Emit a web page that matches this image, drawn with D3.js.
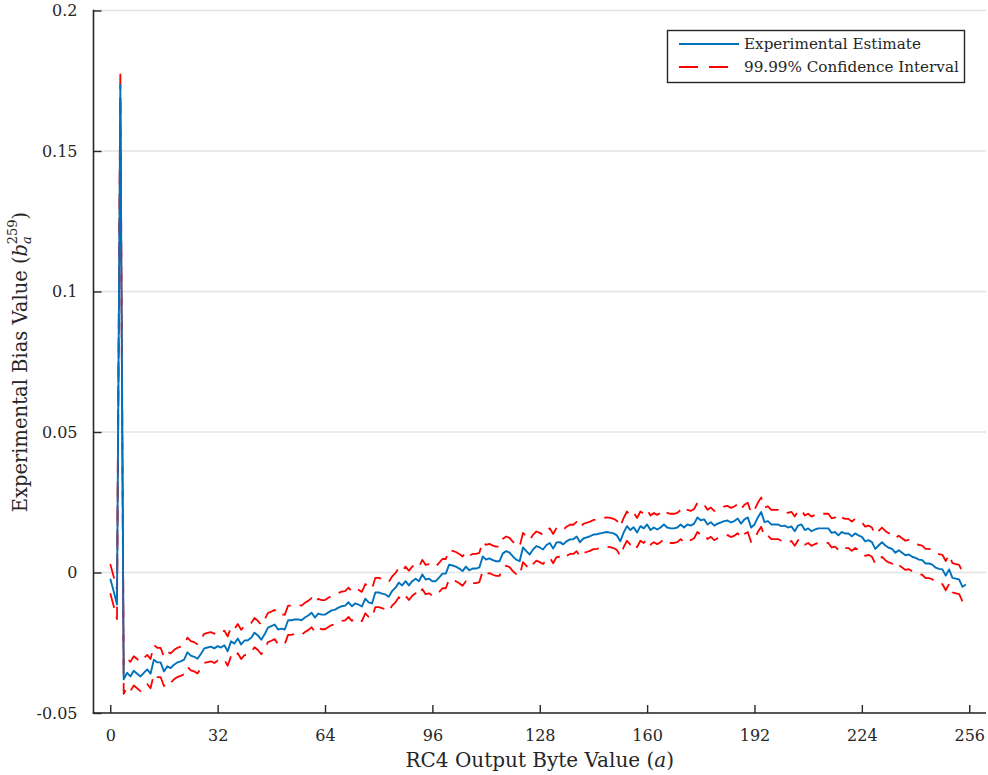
<!DOCTYPE html>
<html>
<head>
<meta charset="utf-8">
<script src="https://cdn.jsdelivr.net/npm/d3@7"></script>
<style>
  html, body { margin: 0; padding: 0; background: #fff; }
  svg { display: block; }
  text { font-family: "DejaVu Serif", "Liberation Serif", serif; fill: #262626; }
</style>
</head>
<body>
<svg id="chart" width="988" height="775"></svg>
<script>
// ---- Data ----
const byteValues = d3.range(0, 256); // a = 0 .. 255

const estimate = [
  -0.0022, -0.0066, -0.0114, 0.1735, -0.0380, -0.0357, -0.0370, -0.0350, -0.0360, -0.0370,
  -0.0357, -0.0345, -0.0360, -0.0310, -0.0320, -0.0320, -0.0352, -0.0334, -0.0340, -0.0328,
  -0.0320, -0.0316, -0.0310, -0.0284, -0.0296, -0.0300, -0.0307, -0.0290, -0.0270, -0.0267,
  -0.0264, -0.0270, -0.0262, -0.0267, -0.0259, -0.0280, -0.0245, -0.0253, -0.0235, -0.0256,
  -0.0242, -0.0241, -0.0232, -0.0214, -0.0224, -0.0239, -0.0220, -0.0196, -0.0191, -0.0185,
  -0.0203, -0.0200, -0.0203, -0.0170, -0.0170, -0.0167, -0.0167, -0.0170, -0.0160, -0.0153,
  -0.0143, -0.0160, -0.0146, -0.0150, -0.0150, -0.0142, -0.0135, -0.0132, -0.0125, -0.0120,
  -0.0118, -0.0106, -0.0120, -0.0110, -0.0114, -0.0121, -0.0093, -0.0106, -0.0110, -0.0071,
  -0.0071, -0.0075, -0.0078, -0.0086, -0.0066, -0.0054, -0.0036, -0.0046, -0.0031, -0.0046,
  -0.0031, -0.0022, -0.0031, -0.0007, -0.0025, -0.0022, -0.0031, -0.0031, -0.0018, -0.0004,
  -0.0004, 0.0028, 0.0025, 0.0021, 0.0014, 0.0005, 0.0021, 0.0008, 0.0014, 0.0014,
  0.0018, 0.0057, 0.0046, 0.0050, 0.0044, 0.0040, 0.0040, 0.0068, 0.0076, 0.0071,
  0.0057, 0.0046, 0.0040, 0.0089, 0.0076, 0.0064, 0.0082, 0.0094, 0.0089, 0.0082,
  0.0098, 0.0105, 0.0085, 0.0107, 0.0108, 0.0100, 0.0111, 0.0118, 0.0118, 0.0128,
  0.0108, 0.0121, 0.0125, 0.0129, 0.0135, 0.0136, 0.0139, 0.0142, 0.0144, 0.0142,
  0.0139, 0.0132, 0.0111, 0.0142, 0.0165, 0.0151, 0.0161, 0.0142, 0.0165, 0.0157,
  0.0171, 0.0151, 0.0160, 0.0153, 0.0160, 0.0171, 0.0160, 0.0157, 0.0157, 0.0160,
  0.0171, 0.0160, 0.0171, 0.0167, 0.0174, 0.0196, 0.0186, 0.0189, 0.0171, 0.0179,
  0.0167, 0.0174, 0.0178, 0.0183, 0.0185, 0.0178, 0.0183, 0.0192, 0.0174, 0.0189,
  0.0196, 0.0160, 0.0171, 0.0196, 0.0215, 0.0179, 0.0183, 0.0171, 0.0171, 0.0171,
  0.0165, 0.0167, 0.0160, 0.0164, 0.0147, 0.0167, 0.0171, 0.0151, 0.0157, 0.0147,
  0.0153, 0.0157, 0.0157, 0.0157, 0.0157, 0.0141, 0.0144, 0.0132, 0.0144, 0.0139,
  0.0139, 0.0129, 0.0139, 0.0132, 0.0127, 0.0111, 0.0115, 0.0108, 0.0084, 0.0096,
  0.0108, 0.0096, 0.0088, 0.0084, 0.0070, 0.0079, 0.0070, 0.0061, 0.0064, 0.0056,
  0.0052, 0.0046, 0.0044, 0.0032, 0.0032, 0.0028, 0.0017, 0.0013, 0.0011, -0.0011,
  0.0011, -0.0019, -0.0022, -0.0025, -0.0051, -0.0043
];

const ciUpper = [
  0.0030, -0.0014, -0.0062, 0.1790, -0.0328, -0.0305, -0.0318, -0.0298, -0.0308, -0.0318,
  -0.0305, -0.0293, -0.0308, -0.0258, -0.0268, -0.0268, -0.0300, -0.0282, -0.0288, -0.0276,
  -0.0268, -0.0264, -0.0258, -0.0232, -0.0244, -0.0248, -0.0255, -0.0238, -0.0218, -0.0215,
  -0.0212, -0.0218, -0.0210, -0.0215, -0.0207, -0.0228, -0.0193, -0.0201, -0.0183, -0.0204,
  -0.0190, -0.0189, -0.0180, -0.0162, -0.0172, -0.0187, -0.0168, -0.0144, -0.0139, -0.0133,
  -0.0151, -0.0148, -0.0151, -0.0118, -0.0118, -0.0115, -0.0115, -0.0118, -0.0108, -0.0101,
  -0.0091, -0.0108, -0.0094, -0.0098, -0.0098, -0.0090, -0.0083, -0.0080, -0.0073, -0.0068,
  -0.0066, -0.0054, -0.0068, -0.0058, -0.0062, -0.0069, -0.0041, -0.0054, -0.0058, -0.0019,
  -0.0019, -0.0023, -0.0026, -0.0034, -0.0014, -0.0002, 0.0016, 0.0006, 0.0021, 0.0006,
  0.0021, 0.0030, 0.0021, 0.0045, 0.0027, 0.0030, 0.0021, 0.0021, 0.0034, 0.0048,
  0.0048, 0.0080, 0.0077, 0.0073, 0.0066, 0.0057, 0.0073, 0.0060, 0.0066, 0.0066,
  0.0070, 0.0109, 0.0098, 0.0102, 0.0096, 0.0092, 0.0092, 0.0120, 0.0128, 0.0123,
  0.0109, 0.0098, 0.0092, 0.0141, 0.0128, 0.0116, 0.0134, 0.0146, 0.0141, 0.0134,
  0.0150, 0.0157, 0.0137, 0.0159, 0.0160, 0.0152, 0.0163, 0.0170, 0.0170, 0.0180,
  0.0160, 0.0173, 0.0177, 0.0181, 0.0187, 0.0188, 0.0191, 0.0194, 0.0196, 0.0194,
  0.0191, 0.0184, 0.0163, 0.0194, 0.0217, 0.0203, 0.0213, 0.0194, 0.0217, 0.0209,
  0.0223, 0.0203, 0.0212, 0.0205, 0.0212, 0.0223, 0.0212, 0.0209, 0.0209, 0.0212,
  0.0223, 0.0212, 0.0223, 0.0219, 0.0226, 0.0248, 0.0238, 0.0241, 0.0223, 0.0231,
  0.0219, 0.0226, 0.0230, 0.0235, 0.0237, 0.0230, 0.0235, 0.0244, 0.0226, 0.0241,
  0.0248, 0.0212, 0.0223, 0.0248, 0.0267, 0.0231, 0.0235, 0.0223, 0.0223, 0.0223,
  0.0217, 0.0219, 0.0212, 0.0216, 0.0199, 0.0219, 0.0223, 0.0203, 0.0209, 0.0199,
  0.0205, 0.0209, 0.0209, 0.0209, 0.0209, 0.0193, 0.0196, 0.0184, 0.0196, 0.0191,
  0.0191, 0.0181, 0.0191, 0.0184, 0.0179, 0.0163, 0.0167, 0.0160, 0.0136, 0.0148,
  0.0160, 0.0148, 0.0140, 0.0136, 0.0122, 0.0131, 0.0122, 0.0113, 0.0116, 0.0108,
  0.0104, 0.0098, 0.0096, 0.0084, 0.0084, 0.0080, 0.0069, 0.0065, 0.0063, 0.0041,
  0.0063, 0.0033, 0.0030, 0.0027, 0.0001, 0.0009
];

const ciLower = [
  -0.0074, -0.0118, -0.0166, 0.1680, -0.0432, -0.0409, -0.0422, -0.0402, -0.0412, -0.0422,
  -0.0409, -0.0397, -0.0412, -0.0362, -0.0372, -0.0372, -0.0404, -0.0386, -0.0392, -0.0380,
  -0.0372, -0.0368, -0.0362, -0.0336, -0.0348, -0.0352, -0.0359, -0.0342, -0.0322, -0.0319,
  -0.0316, -0.0322, -0.0314, -0.0319, -0.0311, -0.0332, -0.0297, -0.0305, -0.0287, -0.0308,
  -0.0294, -0.0293, -0.0284, -0.0266, -0.0276, -0.0291, -0.0272, -0.0248, -0.0243, -0.0237,
  -0.0255, -0.0252, -0.0255, -0.0222, -0.0222, -0.0219, -0.0219, -0.0222, -0.0212, -0.0205,
  -0.0195, -0.0212, -0.0198, -0.0202, -0.0202, -0.0194, -0.0187, -0.0184, -0.0177, -0.0172,
  -0.0170, -0.0158, -0.0172, -0.0162, -0.0166, -0.0173, -0.0145, -0.0158, -0.0162, -0.0123,
  -0.0123, -0.0127, -0.0130, -0.0138, -0.0118, -0.0106, -0.0088, -0.0098, -0.0083, -0.0098,
  -0.0083, -0.0074, -0.0083, -0.0059, -0.0077, -0.0074, -0.0083, -0.0083, -0.0070, -0.0056,
  -0.0056, -0.0024, -0.0027, -0.0031, -0.0038, -0.0047, -0.0031, -0.0044, -0.0038, -0.0038,
  -0.0034, 0.0005, -0.0006, -0.0002, -0.0008, -0.0012, -0.0012, 0.0016, 0.0024, 0.0019,
  0.0005, -0.0006, -0.0012, 0.0037, 0.0024, 0.0012, 0.0030, 0.0042, 0.0037, 0.0030,
  0.0046, 0.0053, 0.0033, 0.0055, 0.0056, 0.0048, 0.0059, 0.0066, 0.0066, 0.0076,
  0.0056, 0.0069, 0.0073, 0.0077, 0.0083, 0.0084, 0.0087, 0.0090, 0.0092, 0.0090,
  0.0087, 0.0080, 0.0059, 0.0090, 0.0113, 0.0099, 0.0109, 0.0090, 0.0113, 0.0105,
  0.0119, 0.0099, 0.0108, 0.0101, 0.0108, 0.0119, 0.0108, 0.0105, 0.0105, 0.0108,
  0.0119, 0.0108, 0.0119, 0.0115, 0.0122, 0.0144, 0.0134, 0.0137, 0.0119, 0.0127,
  0.0115, 0.0122, 0.0126, 0.0131, 0.0133, 0.0126, 0.0131, 0.0140, 0.0122, 0.0137,
  0.0144, 0.0108, 0.0119, 0.0144, 0.0163, 0.0127, 0.0131, 0.0119, 0.0119, 0.0119,
  0.0113, 0.0115, 0.0108, 0.0112, 0.0095, 0.0115, 0.0119, 0.0099, 0.0105, 0.0095,
  0.0101, 0.0105, 0.0105, 0.0105, 0.0105, 0.0089, 0.0092, 0.0080, 0.0092, 0.0087,
  0.0087, 0.0077, 0.0087, 0.0080, 0.0075, 0.0059, 0.0063, 0.0056, 0.0032, 0.0044,
  0.0056, 0.0044, 0.0036, 0.0032, 0.0018, 0.0027, 0.0018, 0.0009, 0.0012, 0.0004,
  0.0000, -0.0006, -0.0008, -0.0020, -0.0020, -0.0024, -0.0035, -0.0039, -0.0041, -0.0063,
  -0.0041, -0.0071, -0.0074, -0.0077, -0.0103, -0.0095
];

const xTicks = [0, 32, 64, 96, 128, 160, 192, 224, 256];
const yTicks = [-0.05, 0, 0.05, 0.1, 0.15, 0.2];
const yTickLabels = ["-0.05", "0", "0.05", "0.1", "0.15", "0.2"];
const legendLabels = ["Experimental Estimate", "99.99% Confidence Interval"];

// ---- Chart ----
(function draw() {
  const FONT = '"DejaVu Serif", "Liberation Serif", serif';
  const svg = d3.select("#chart");
  const pL = 93.5, pR = 986, pT = 10.5, pB = 713;
  const x = d3.scaleLinear().domain([-5, 261]).range([pL, pR]);
  const y = d3.scaleLinear().domain([-0.05, 0.2]).range([pB, pT]);

  const axisColor = "#262626";
  const blue = "#0072BD";
  const red = "#FF0000";

  // grid
  svg.append("g").selectAll("line").data(yTicks).join("line")
    .attr("x1", pL).attr("x2", pR)
    .attr("y1", d => y(d)).attr("y2", d => y(d))
    .attr("stroke", "#e3e3e3").attr("stroke-width", 1.5);

  // series
  const line = d3.line().x((d, i) => x(byteValues[i])).y(d => y(d));
  const dash = "15,9";
  [ciUpper, ciLower].forEach(arr => {
    svg.append("path").datum(arr).attr("d", line)
      .attr("fill", "none").attr("stroke", red).attr("stroke-width", 1.8)
      .attr("stroke-dasharray", dash).attr("stroke-linejoin", "round");
  });
  svg.append("path").datum(estimate).attr("d", line)
    .attr("fill", "none").attr("stroke", blue).attr("stroke-width", 1.9)
    .attr("stroke-linejoin", "round");

  // x axis
  const xAxis = d3.axisBottom(x).tickValues(xTicks).tickSize(-8).tickPadding(17).tickSizeOuter(0);
  const gx = svg.append("g").attr("transform", `translate(0,${pB})`).call(xAxis)
    .attr("font-family", FONT).attr("font-size", 16);
  gx.select(".domain").attr("stroke", axisColor).attr("stroke-width", 1.6)
    .attr("d", `M${pL - 0.8},0H${pR}`);
  gx.selectAll(".tick line").attr("stroke", axisColor).attr("stroke-width", 1.4);
  gx.selectAll(".tick text").attr("fill", axisColor).attr("dy", "0.71em");

  // y axis
  const yAxis = d3.axisLeft(y).tickValues(yTicks).tickFormat((d, i) => yTickLabels[i])
    .tickSize(-8).tickPadding(16).tickSizeOuter(0);
  const gy = svg.append("g").attr("transform", `translate(${pL},0)`).call(yAxis)
    .attr("font-family", FONT).attr("font-size", 16);
  gy.select(".domain").attr("stroke", axisColor).attr("stroke-width", 1.6)
    .attr("d", `M0,${pT - 0.8}V${pB + 0.8}`);
  gy.selectAll(".tick line").attr("stroke", axisColor).attr("stroke-width", 1.4);
  gy.selectAll(".tick text").attr("fill", axisColor);

  // axis labels
  const xl = svg.append("text")
    .attr("x", (x(0) + x(256)) / 2).attr("y", 767)
    .attr("text-anchor", "middle").attr("font-size", 20);
  xl.append("tspan").text("RC4 Output Byte Value (");
  xl.append("tspan").attr("font-style", "italic").text("a");
  xl.append("tspan").text(")");

  const yl = svg.append("text")
    .attr("transform", "translate(27,362) rotate(-90)")
    .attr("text-anchor", "middle").attr("font-size", 19.5);
  yl.append("tspan").text("Experimental Bias Value (");
  yl.append("tspan").attr("font-style", "italic").text("b");
  yl.append("tspan").attr("font-style", "italic").attr("font-size", 13).attr("dy", 4).text("a");
  yl.append("tspan").attr("font-size", 13).attr("dx", -8).attr("dy", -14).text("259");
  yl.append("tspan").attr("dy", 10).text(")");

  // legend
  const lg = svg.append("g");
  lg.append("rect").attr("x", 667.5).attr("y", 30.5).attr("width", 297).attr("height", 52)
    .attr("fill", "#fff").attr("stroke", axisColor).attr("stroke-width", 1.4);
  const legendRows = [
    { label: legendLabels[0], color: blue, dash: null, yy: 44 },
    { label: legendLabels[1], color: red, dash: "19,11", yy: 67 }
  ];
  legendRows.forEach(r => {
    lg.append("line").attr("x1", 679).attr("x2", 739).attr("y1", r.yy).attr("y2", r.yy)
      .attr("stroke", r.color).attr("stroke-width", 1.9)
      .attr("stroke-dasharray", r.dash);
    lg.append("text").attr("x", 744).attr("y", r.yy).attr("dy", "0.35em")
      .attr("font-size", 15.2).text(r.label);
  });
})();
</script>
</body>
</html>
